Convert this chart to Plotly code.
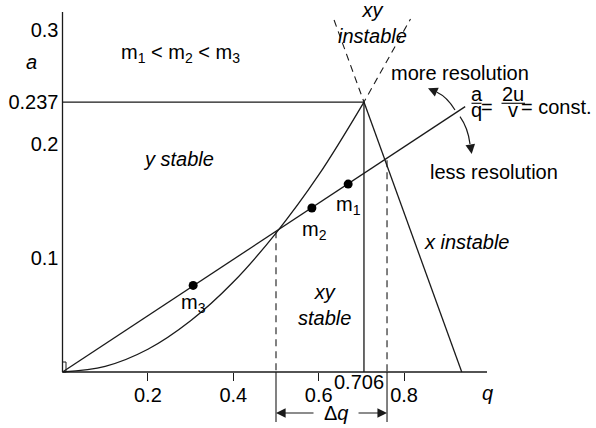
import plotly.graph_objects as go

# Stability boundary (beta_y = 0) of the first Mathieu stability region
stab_q = [0.0, 0.1, 0.2, 0.3, 0.4, 0.5, 0.6, 0.706]
stab_a = [0.0, 0.005, 0.020, 0.045, 0.079, 0.122, 0.173, 0.237]

# Right boundary (beta_x = 1), drawn straight from the apex to the q axis
edge_q = [0.706, 0.935]
edge_a = [0.237, 0.0]

# Apex of the stability region
apex_q = 0.706
apex_a = 0.237

# Dashed continuations of both boundaries above the apex
ext_q = [0.636, 0.706, 0.815]
ext_a = [0.309, 0.237, 0.310]

# Mass scan line a/q = const.
scan_q = [0.0, 0.943]
scan_a = [0.0, 0.233]

# Ion masses on the scan line
m_q = [0.669, 0.584, 0.306]
m_a = [0.165, 0.144, 0.076]
m_names = ["m<sub>1</sub>", "m<sub>2</sub>", "m<sub>3</sub>"]

# Stable q window on the scan line (Delta q)
dq_q = [0.5, 0.76]
dq_top = [0.1235, 0.186]
dq_low = -0.044

# Axis ticks
x_ticks = [0.2, 0.4, 0.6, 0.8]
y_ticks = [0.1, 0.2, 0.237, 0.3]
y_ticktext = ["0.1", "0.2", "0.237", "0.3"]

W, H = 596, 428
FONT = "Liberation Sans, Arial, sans-serif"
FS = 20
INK = "#1a1a1a"

# pixel scale of the axes
X0PX, KX = 62.5, 427.0
Y0PX, KY = 372.0, 1139.0
x_range = [(0 - X0PX) / KX, (W - X0PX) / KX]
y_range = [(Y0PX - H) / KY, Y0PX / KY]


def P(px, py):
    """page pixel -> paper fraction"""
    return px / W, 1 - py / H


fig = go.Figure()

line = dict(color=INK, width=1.3)

fig.add_trace(go.Scatter(x=stab_q, y=stab_a, mode="lines",
                         line=dict(color=INK, width=1.3, shape="spline"),
                         hoverinfo="skip"))
fig.add_trace(go.Scatter(x=edge_q, y=edge_a, mode="lines", line=line, hoverinfo="skip"))
fig.add_trace(go.Scatter(x=[0, apex_q, apex_q], y=[apex_a, apex_a, 0], mode="lines",
                         line=line, hoverinfo="skip"))
fig.add_trace(go.Scatter(x=ext_q, y=ext_a, mode="lines",
                         line=dict(color=INK, width=1.1, dash="7px,5px"), hoverinfo="skip"))
fig.add_trace(go.Scatter(x=scan_q, y=scan_a, mode="lines", line=line, hoverinfo="skip"))

# Delta q dimension lines: dashed above the axis, solid below
for q, top in zip(dq_q, dq_top):
    fig.add_trace(go.Scatter(x=[q, q], y=[top, 0], mode="lines",
                             line=dict(color=INK, width=1.1, dash="7px,5px"),
                             hoverinfo="skip"))
    fig.add_trace(go.Scatter(x=[q, q], y=[0, dq_low], mode="lines",
                             line=dict(color=INK, width=1.1), hoverinfo="skip"))

fig.add_trace(go.Scatter(x=m_q, y=m_a, mode="markers",
                         marker=dict(color="black", size=9), hoverinfo="skip"))

shapes = []
# axis lines
shapes.append(dict(type="line", xref="x", yref="y", x0=0, y0=0,
                   x1=(487 - X0PX) / KX, y1=0, line=dict(color=INK, width=1.3)))
shapes.append(dict(type="line", xref="x", yref="y", x0=0, y0=0,
                   x1=0, y1=(Y0PX - 12) / KY, line=dict(color=INK, width=1.3)))
# small corner box at the origin
shapes.append(dict(type="rect", xref="x", yref="y", x0=0, y0=0,
                   x1=3.5 / KX, y1=10 / KY, line=dict(color=INK, width=1)))

# fraction bars of a/q = 2u/v
for xa, xb in [(471.5, 481.5), (501.5, 525)]:
    p0 = P(xa, 103.3)
    p1 = P(xb, 103.3)
    shapes.append(dict(type="line", xref="paper", yref="paper",
                       x0=p0[0], y0=p0[1], x1=p1[0], y1=p1[1],
                       line=dict(color=INK, width=1.2)))


def qpath(a, c, b):
    pa, pc, pb = P(*a), P(*c), P(*b)
    return f"M {pa[0]} {pa[1]} Q {pc[0]} {pc[1]} {pb[0]} {pb[1]}"


shapes.append(dict(type="path", xref="paper", yref="paper",
                   path=qpath((455, 110), (447, 97), (437, 92.3)),
                   line=dict(color=INK, width=1.2)))
shapes.append(dict(type="path", xref="paper", yref="paper",
                   path=qpath((460, 116.7), (468, 128), (470, 144)),
                   line=dict(color=INK, width=1.2)))

ann = []


def text(px, py, s, size=FS, xanchor="center", italic=False):
    x, y = P(px, py)
    ann.append(dict(xref="paper", yref="paper", x=x, y=y, text=f"<i>{s}</i>" if italic else s,
                    showarrow=False, xanchor=xanchor, yanchor="middle",
                    font=dict(family=FONT, size=size, color="black")))


text(180, 53, "m<sub>1</sub> &lt; m<sub>2</sub> &lt; m<sub>3</sub>")
text(178.5, 159, "y stable", italic=True)
text(324.5, 305, "xy<br>stable", italic=True)
text(466.5, 242, "x instable", italic=True)
text(372, 23, "xy<br>instable", italic=True)
text(460, 73, "more resolution")
text(494, 172, "less resolution")
text(476.5, 94, "a")
text(476.5, 110, "q")
text(486.5, 107, "=")
text(513, 94, "2u")
text(513, 110, "v")
text(594, 107, "= const.", xanchor="right")
text(31.7, 62, "a", italic=True)
text(487.3, 393, "q", italic=True)
text(336, 413, "Δ<i>q</i>")

# 0.706 label at the apex position
ann.append(dict(xref="x", yref="paper", x=apex_q, y=P(0, 382)[1], text="0.706",
                showarrow=False, xshift=-5, yanchor="middle",
                font=dict(family=FONT, size=FS, color="black")))

# mass labels below their points
for q, a, name, dx, dy in zip(m_q, m_a, m_names, [0, 3, 0], [-21, -23, -18]):
    ann.append(dict(xref="x", yref="y", x=q, y=a, text=name, showarrow=False,
                    xshift=dx, yshift=dy, yanchor="middle",
                    font=dict(family=FONT, size=FS, color="black")))

# arrow heads
arrow = dict(showarrow=True, arrowhead=2, arrowsize=1.6, arrowwidth=1.2,
             arrowcolor=INK, text="", standoff=0)
x, y = P(428, 88.3)
ann.append(dict(xref="paper", yref="paper", x=x, y=y, ax=9, ay=4, **arrow))
x, y = P(471.7, 154)
ann.append(dict(xref="paper", yref="paper", x=x, y=y, ax=-1.5, ay=-10, **arrow))

# Delta q double arrow
ydq = P(0, 413)[1]
ann.append(dict(xref="x", yref="paper", x=dq_q[0], y=ydq, ax=39, ay=0, **arrow))
ann.append(dict(xref="x", yref="paper", x=dq_q[1], y=ydq, ax=-30, ay=0, **arrow))

fig.update_layout(
    width=W, height=H,
    margin=dict(l=0, r=0, t=0, b=0),
    paper_bgcolor="white", plot_bgcolor="white",
    showlegend=False,
    shapes=shapes, annotations=ann,
    font=dict(family=FONT, size=FS, color="black"),
    xaxis=dict(range=x_range, anchor="free", position=(0 - y_range[0]) / (y_range[1] - y_range[0]),
               showgrid=False, zeroline=False, showline=False,
               tickvals=x_ticks, ticks="outside", ticklen=8, tickwidth=1.2, tickcolor=INK,
               ticklabelstandoff=-3,
               tickfont=dict(family=FONT, size=FS, color="black")),
    yaxis=dict(range=y_range, anchor="free", position=X0PX / W,
               showgrid=False, zeroline=False, showline=False,
               tickvals=y_ticks, ticktext=y_ticktext, ticks="",
               ticklabelstandoff=4,
               tickfont=dict(family=FONT, size=FS, color="black")),
)

fig.write_html("out.html")
